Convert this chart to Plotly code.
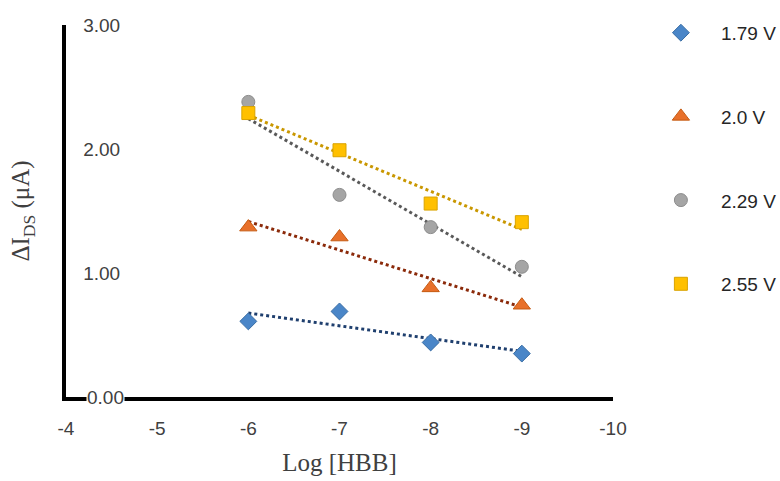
import numpy as np
import plotly.graph_objects as go

# ---- data ----
log_hbb = [-6, -7, -8, -9]
series_names = ["1.79 V", "2.0 V", "2.29 V", "2.55 V"]
v179 = [0.61, 0.69, 0.44, 0.35]
v200 = [1.37, 1.29, 0.88, 0.74]
v229 = [2.38, 1.63, 1.37, 1.05]
v255 = [2.29, 1.99, 1.56, 1.41]
x_ticks = [-4, -5, -6, -7, -8, -9, -10]
y_ticks = [0, 1, 2, 3]
y_ticktext = ["0.00", "1.00", "2.00", "3.00"]

series = [v179, v200, v229, v255]
marker_symbols = ["diamond", "triangle-up", "circle", "square"]
marker_sizes = [13, 15, 13, 13]
fill_colors = ["#4A86C8", "#E8702A", "#A5A5A5", "#FFC000"]
edge_colors = ["#3A6EA5", "#C55A11", "#8C8C8C", "#D9A300"]
trend_colors = ["#1F3F6E", "#8B2A0A", "#595959", "#C99700"]

fig = go.Figure()

# trendlines (linear fits of each series)
for vals, tc in zip(series, trend_colors):
    k, b = np.polyfit(log_hbb, vals, 1)
    xs = [log_hbb[0], log_hbb[-1]]
    fig.add_trace(go.Scatter(
        x=xs, y=[k * xs[0] + b, k * xs[1] + b], mode="lines",
        line=dict(color=tc, width=3, dash="dot"),
        showlegend=False, hoverinfo="skip"))

for i, (vals, name) in enumerate(zip(series, series_names)):
    fig.add_trace(go.Scatter(
        x=log_hbb, y=vals, mode="markers", name=name,
        legendgroup=name,
        marker=dict(symbol=marker_symbols[i], size=marker_sizes[i],
                    color=fill_colors[i],
                    line=dict(color=edge_colors[i], width=1))))

tick_font = dict(family="Liberation Sans, Arial, sans-serif", size=19, color="#404040")
title_font = dict(family="Liberation Serif, Times New Roman, serif", size=25, color="#404040")

fig.update_layout(
    width=780, height=481,
    margin=dict(l=66, r=167, t=25, b=84, autoexpand=False),
    paper_bgcolor="white", plot_bgcolor="white",
    showlegend=True,
    legend=dict(
        x=1.051, xanchor="left", y=1.03, yanchor="top",
        font=dict(family="Liberation Sans, Arial, sans-serif", size=19, color="#262626"),
        tracegroupgap=56, itemwidth=70, maxheight=470,
        bgcolor="rgba(0,0,0,0)"),
    xaxis=dict(
        range=[-4, -10], tickvals=x_ticks, ticktext=[str(t) for t in x_ticks],
        showgrid=False, zeroline=False, showline=True, linecolor="black",
        linewidth=4, ticks="", tickfont=tick_font, ticklabelstandoff=11,
        automargin=False,
        title=dict(text="Log [HBB]", standoff=17, font=title_font)),
    yaxis=dict(
        range=[0, 3], tickvals=y_ticks[1:], ticktext=y_ticktext[1:],
        showgrid=False, zeroline=False, showline=True, linecolor="black",
        linewidth=4, ticks="", tickfont=tick_font,
        ticklabelstandoff=-62, ticklabeloverflow="allow", automargin=False,
        title=dict(text="ΔI<sub>DS</sub> (μA)", standoff=47, font=title_font)),
    annotations=[dict(
        x=0, xref="paper", y=y_ticks[0], yref="y", text=y_ticktext[0],
        showarrow=False, xanchor="left", yanchor="middle", xshift=20,
        bgcolor="white", borderpad=0, font=tick_font)],
)

fig.write_html("out.html")
